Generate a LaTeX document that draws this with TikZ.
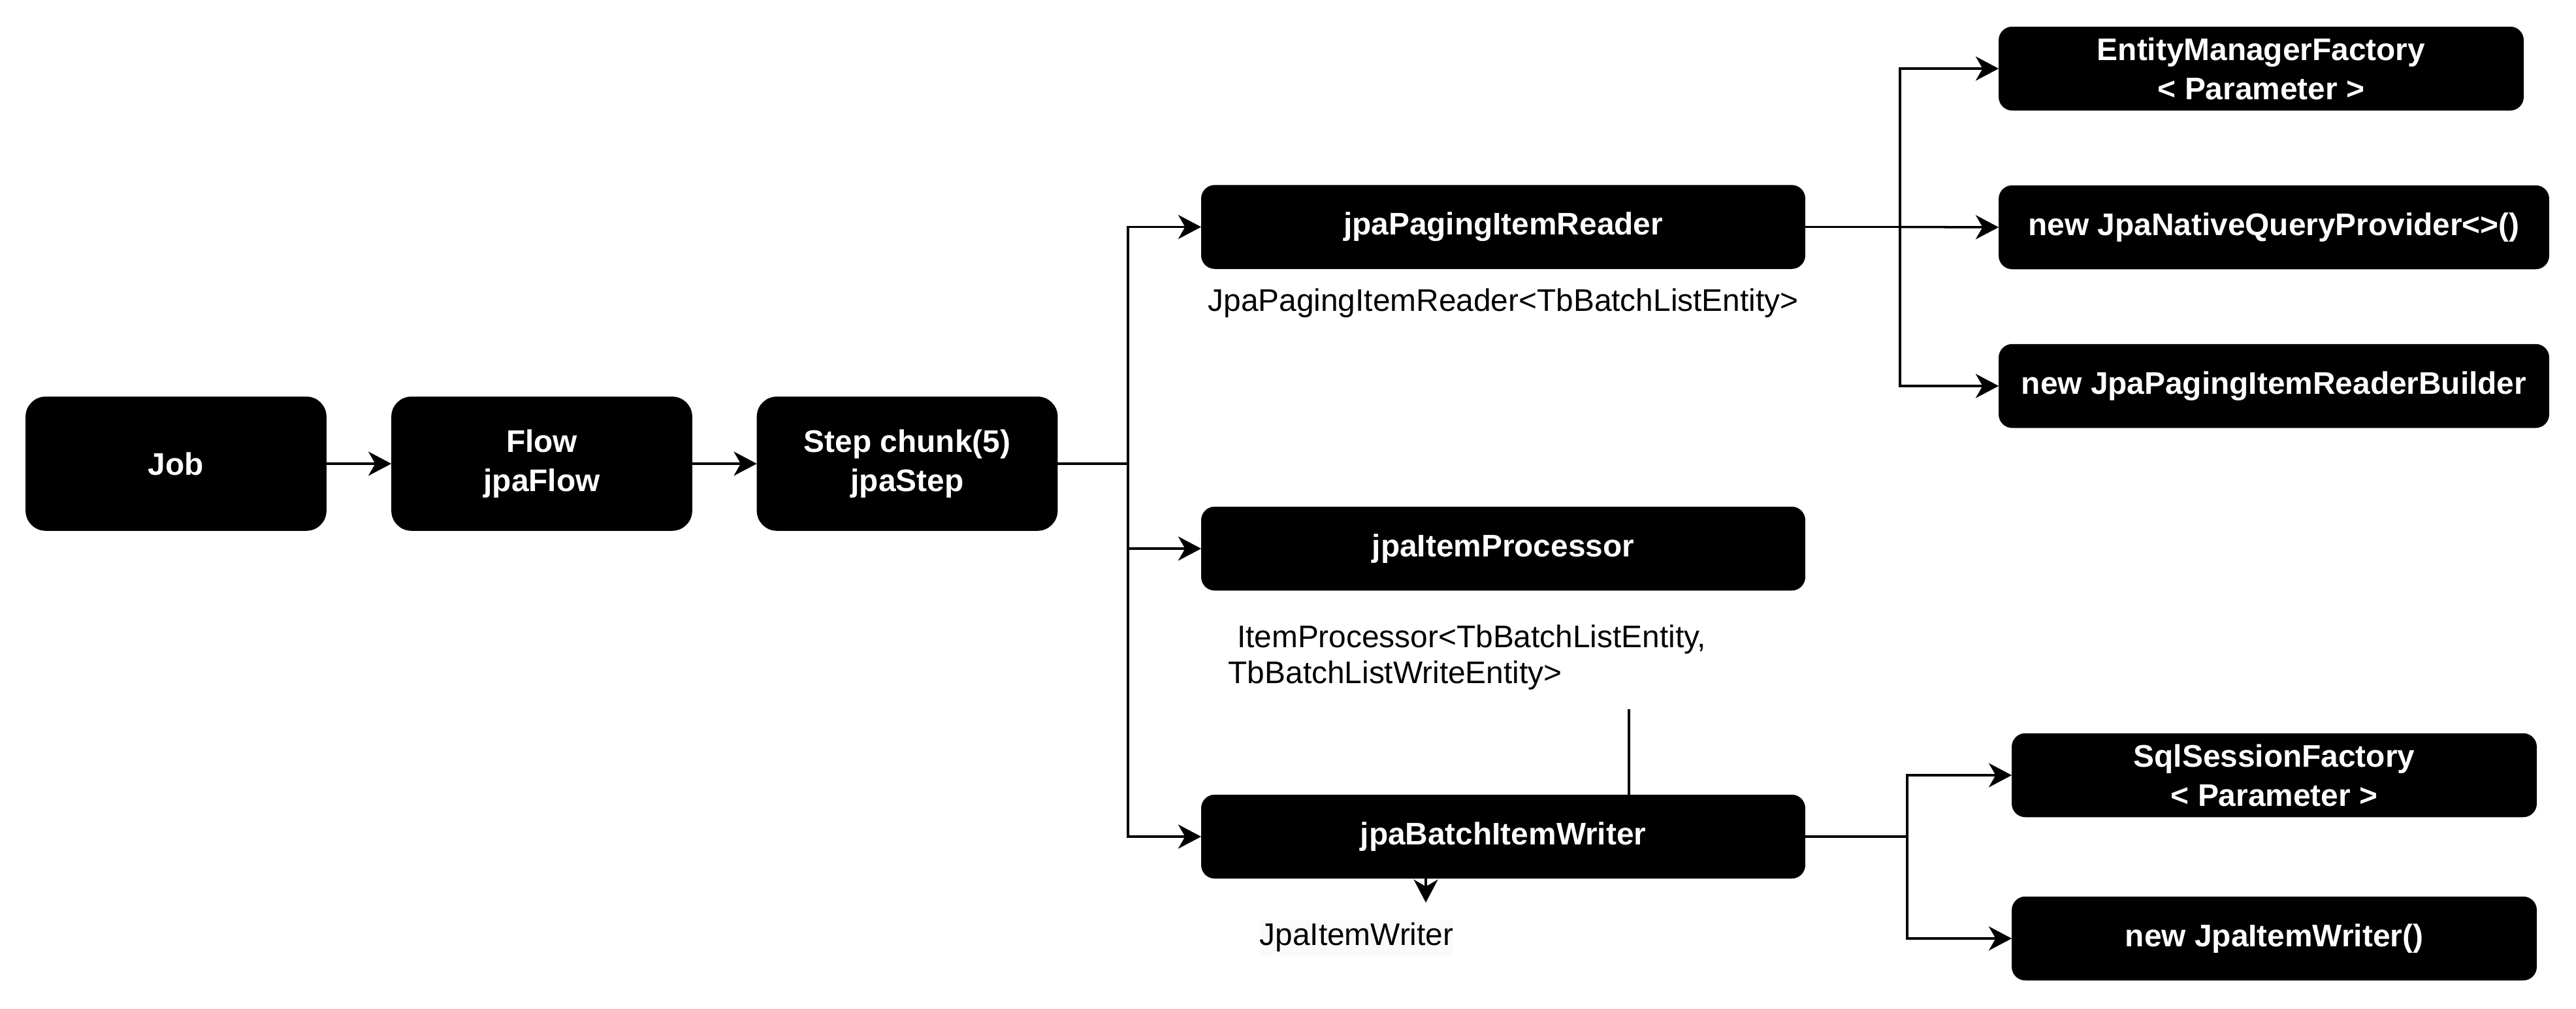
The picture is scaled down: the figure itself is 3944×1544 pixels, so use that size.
\documentclass[tikz,border=0pt]{standalone}
\usepackage{fontspec}
\setmainfont{Liberation Sans}
\usetikzlibrary{arrows.meta,backgrounds,positioning}

\tikzset{
	block/.style={draw=black, fill=black, text=white, rounded corners=0.2cm, inner sep=0pt,
		minimum height=1.27cm, align=center, font=\fontsize{13.6}{17}\selectfont\bfseries},
	bigblock/.style={block, rounded corners=0.3cm, minimum width=4.59cm, minimum height=2.04cm},
	note/.style={inner sep=0pt, font=\fontsize{13.6}{15.7}\selectfont},
	link/.style={line width=1pt, -{Stealth[length=10pt,width=10.5pt,inset=3pt]}},
	wire/.style={line width=1pt}
}

\begin{document}
\begin{tikzpicture}[x=0.01cm, y=-0.01cm]
	\useasboundingbox (0,0) rectangle (3944,1544);

	% main chain
	\node (job)  [bigblock] at (269.5,710) {Job};
	\node (flow) [bigblock] at (829.5,710) {Flow\\jpaFlow};
	\node (step) [bigblock] at (1389,710)  {Step chunk(5)\\jpaStep};

	% chunk parts
	\node (reader)    [block, minimum width=9.23cm] at (2301.5,347.5) {jpaPagingItemReader};
	\node (processor) [block, minimum width=9.23cm] at (2301.5,840)   {jpaItemProcessor};
	\node (writer)    [block, minimum width=9.23cm] at (2301.5,1281)  {jpaBatchItemWriter};

	\node (readertype) [note] at (2301.5,464) {JpaPagingItemReader<TbBatchListEntity>};
	\node (proctype)   [note, anchor=west, align=left] at (1880,1007)
		{\ ItemProcessor<TbBatchListEntity,\\TbBatchListWriteEntity>};
	\node (writertype) [note, fill=black!2, minimum height=0.55cm] at (2077,1435) {JpaItemWriter};

	% reader parameters
	\node (emf)   [block, minimum width=8.02cm] at (3462,105)   {EntityManagerFactory\\< Parameter >};
	\node (query) [block, minimum width=8.41cm] at (3481.5,348) {new JpaNativeQueryProvider<>()};
	\node (build) [block, minimum width=8.41cm] at (3481.5,591) {new JpaPagingItemReaderBuilder};

	% writer parameters
	\node (sqlsf)  [block, minimum width=8.02cm] at (3482,1187) {SqlSessionFactory\\< Parameter >};
	\node (jpawr)  [block, minimum width=8.02cm] at (3482,1437) {new JpaItemWriter()};

	\coordinate (stepbus)   at (1727,710);
	\coordinate (readerbus) at (2909,347.5);
	\coordinate (writerbus) at (2920,1281);
	\coordinate (wtop)      at (2494,1086);
	\coordinate (wtip)      at (2183,1382);

	\draw [link] (job) -- (flow);
	\draw [link] (flow) -- (step);

	\draw [link] (step.east) -- (stepbus) |- (reader.west);
	\draw [link] (stepbus) |- (processor.west);
	\draw [link] (stepbus) |- (writer.west);

	\draw [link] (reader.east) -- (readerbus) |- (emf.west);
	\draw [link] (readerbus) -- (query.west);
	\draw [link] (readerbus) |- (build.west);

	\draw [link] (writer.east) -- (writerbus) |- (sqlsf.west);
	\draw [link] (writerbus) |- (jpawr.west);

	\begin{scope}[on background layer]
		\draw [link] (wtop) |- (writer.center) -| (wtip);
	\end{scope}
\end{tikzpicture}
\end{document}
